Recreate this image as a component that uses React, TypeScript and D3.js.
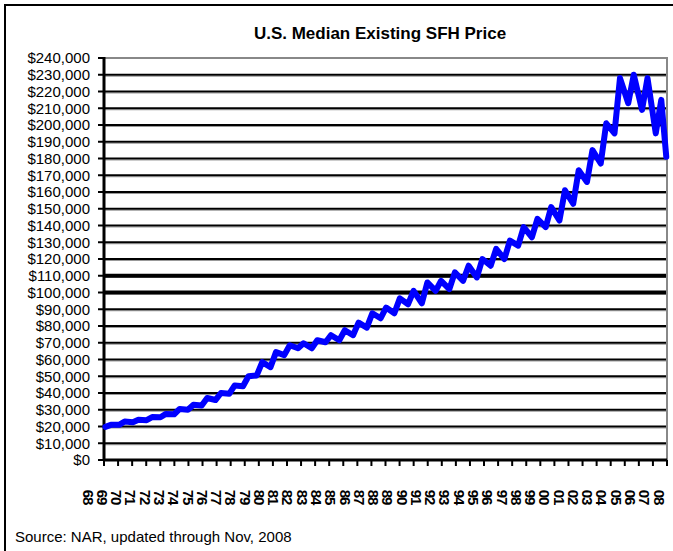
import React from "react";
import * as d3 from "d3";

// median price, winter low (Jan/Feb) and summer high (Jun/Jul), in $000
const years = [
  1968, 1969, 1970, 1971, 1972, 1973, 1974, 1975, 1976, 1977,
  1978, 1979, 1980, 1981, 1982, 1983, 1984, 1985, 1986, 1987,
  1988, 1989, 1990, 1991, 1992, 1993, 1994, 1995, 1996, 1997,
  1998, 1999, 2000, 2001, 2002, 2003, 2004, 2005, 2006, 2007, 2008,
];
const winterLow = [
  19.8, 21.0, 22.5, 23.8, 25.5, 27.3, 30.0, 32.5, 35.8, 39.5,
  44.0, 50.5, 55.4, 62.6, 66.7, 66.7, 70.3, 71.5, 74.5, 79.0,
  84.6, 87.6, 93.0, 93.6, 101.0, 102.0, 107.0, 109.0, 116.0, 120.0,
  128.0, 133.0, 139.0, 143.0, 153.0, 166.0, 177.0, 195.0, 213.0, 209.0, 195.0,
];
const summerHigh = [
  21.0, 23.0, 24.0, 25.6, 27.5, 30.5, 33.0, 37.0, 40.0, 44.5,
  50.0, 58.4, 64.4, 68.5, 69.7, 71.5, 74.5, 77.5, 82.0, 87.6,
  91.0, 96.5, 101.0, 106.0, 107.0, 112.0, 116.0, 120.0, 126.0, 131.0,
  139.0, 144.0, 151.0, 161.0, 173.0, 185.0, 201.0, 228.0, 230.0, 228.0, 215.0,
];
const lastMonth = { t: 2008 + 10 / 12 + 0.03, v: 181.0 }; // Nov 2008

const yearLabels = years.map((y) => String(y).slice(2));
const yTicks = [
  0, 10000, 20000, 30000, 40000, 50000, 60000, 70000, 80000, 90000, 100000,
  110000, 120000, 130000, 140000, 150000, 160000, 170000, 180000, 190000,
  200000, 210000, 220000, 230000, 240000,
];
const heavyLines = [100000, 110000];

const W = 673, H = 551;
const margin = { left: 104, right: 6, top: 58, bottom: 91 };

export default function App() {
  const pts: { t: number; v: number }[] = [];
  years.forEach((y, i) => {
    pts.push({ t: y + 0.1, v: winterLow[i] * 1000 });
    pts.push({ t: y + 0.5, v: summerHigh[i] * 1000 });
  });
  pts.push({ t: lastMonth.t, v: lastMonth.v * 1000 });

  const x = d3.scaleLinear().domain([1968, 2008 + 11 / 12]).range([margin.left, W - margin.right]);
  const y = d3.scaleLinear().domain([0, 240000]).range([H - margin.bottom, margin.top]);
  const tickX = d3.scaleLinear().domain([0, years.length - 1]).range([margin.left, W - margin.right]);
  const labelX = d3.scaleLinear().domain([0, years.length - 1]).range([88, 659]);
  const fmt = (d: number) => "$" + d3.format(",")(d);

  const line = d3.line<{ t: number; v: number }>().x((d) => x(d.t)).y((d) => y(d.v));
  const x0 = margin.left, x1 = W - margin.right, yb = H - margin.bottom;

  return (
    <svg width={W} height={H} style={{ position: "fixed", left: 0, top: 0, background: "#fff" }}
      fontFamily="'Liberation Sans', Arial, sans-serif">
      <rect x={5} y={5} width={W + 20} height={H + 20} fill="#fff" stroke="#000" strokeWidth={2} />
      <text x={380} y={39} textAnchor="middle" fontSize={17} fontWeight="bold">
        U.S. Median Existing SFH Price
      </text>

      {yTicks.map((t) => (
        <g key={t}>
          {t > 0 && t < 240000 && (
            <>
              <line x1={x0} x2={x1} y1={y(t) + 1.5} y2={y(t) + 1.5} stroke="#999" strokeWidth={1} />
              <line x1={x0} x2={x1} y1={y(t)} y2={y(t)} stroke="#000"
                strokeWidth={heavyLines.includes(t) ? 4 : 2} />
            </>
          )}
          <line x1={x0 - 6} x2={x0} y1={y(t)} y2={y(t)} stroke="#000" strokeWidth={2} />
          <text x={90} y={y(t)} dy="0.36em" textAnchor="end" fontSize={15}>{fmt(t)}</text>
        </g>
      ))}

      <path d={`M${x0},${y(240000)}H${x1}V${yb}`} fill="none" stroke="#888" strokeWidth={2} />
      <line x1={x0} x2={x1} y1={yb} y2={yb} stroke="#000" strokeWidth={3} />
      <line x1={x0} x2={x0} y1={y(240000) - 1} y2={yb + 1} stroke="#000" strokeWidth={3} />

      {years.map((yr, i) => (
        <line key={yr} x1={tickX(i)} x2={tickX(i)} y1={yb} y2={yb + 6} stroke="#000" strokeWidth={2} />
      ))}
      {yearLabels.map((lab, i) => (
        <text key={i} transform={`translate(${labelX(i)},497) rotate(90)`} textAnchor="middle"
          dy="0.36em" fontSize={15} fontWeight="bold" letterSpacing={-1}>{lab}</text>
      ))}

      <path d={line(pts) || ""} fill="none" stroke="#0000ff" strokeWidth={6}
        strokeLinejoin="round" strokeLinecap="round" />

      <text x={15} y={542} fontSize={15}>Source: NAR, updated through Nov, 2008</text>
    </svg>
  );
}
